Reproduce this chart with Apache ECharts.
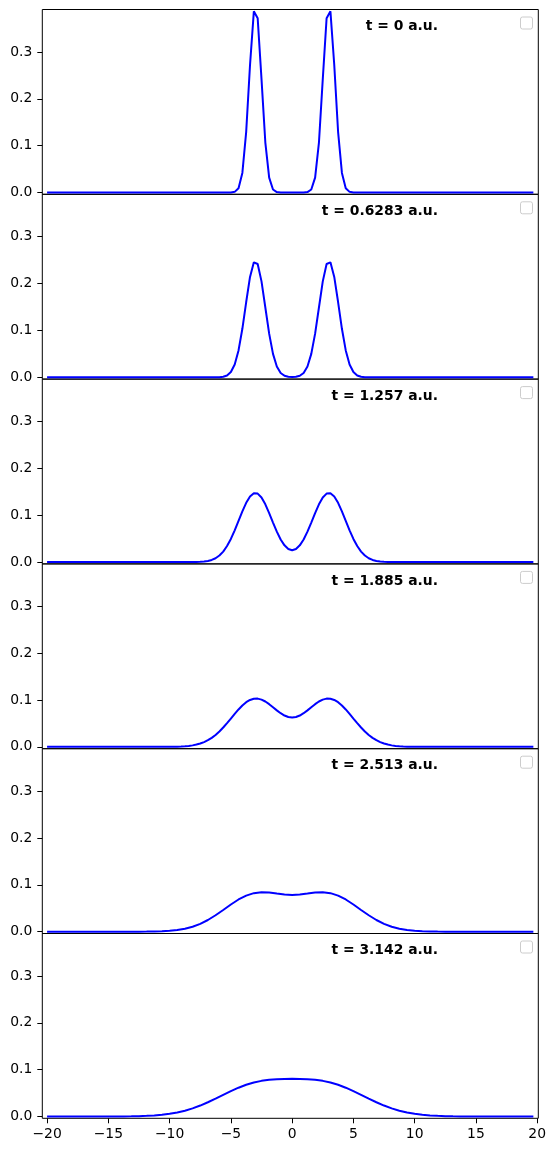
<!DOCTYPE html>
<html>
<head>
<meta charset="utf-8">
<script src="https://cdn.jsdelivr.net/npm/echarts@6/dist/echarts.min.js"></script>
<style>
  html, body { margin: 0; padding: 0; background: #fff; }
  #char { width: 555px; height: 1152px; }
</style>
</head>
<body>
<div id="char"></div>
<script>
// 每个子图的标题
const titles = ['t = 0 a.u.', 't = 0.6283 a.u.', 't = 1.257 a.u.', 't = 1.885 a.u.', 't = 2.513 a.u.', 't = 3.142 a.u.']
const xTicks = [-20, -15, -10, -5, 0, 5, 10, 15, 20]
const yTicks = [0, 0.1, 0.2, 0.3]

// t = 0
const x1 = [-20, -5.3125, -5, -4.6875, -4.375, -4.0625, -3.75, -3.4375, -3.125, -2.8125, -2.5, -2.1875, -1.875, -1.5625, -1.25, -0.9375,
  0.9375, 1.25, 1.5625, 1.875, 2.1875, 2.5, 2.8125, 3.125, 3.4375, 3.75, 4.0625, 4.375, 4.6875, 5, 5.3125, 19.6875]
const y1 = [0, 0, 0.0001, 0.0013, 0.0091, 0.0417, 0.1295, 0.2720, 0.3866, 0.3718, 0.2420, 0.1066, 0.0318, 0.0064, 0.0009, 0,
  0, 0.0009, 0.0064, 0.0318, 0.1066, 0.2420, 0.3718, 0.3866, 0.2720, 0.1295, 0.0417, 0.0091, 0.0013, 0.0001, 0, 0]

// t = 0.6283
const x2 = [-20, -6.875, -6.5625, -6.25, -5.9375, -5.625, -5.3125, -5, -4.6875, -4.375, -4.0625, -3.75, -3.4375, -3.125, -2.8125, -2.5,
  -2.1875, -1.875, -1.5625, -1.25, -0.9375, -0.625, -0.3125, 0, 0.3125, 0.625, 0.9375, 1.25, 1.5625, 1.875, 2.1875, 2.5, 2.8125,
  3.125, 3.4375, 3.75, 4.0625, 4.375, 4.6875, 5, 5.3125, 5.625, 5.9375, 6.25, 6.5625, 6.875, 19.6875]
const y2 = [0, 0, 0, 0.0001, 0.0003, 0.0012, 0.0039, 0.0112, 0.0273, 0.0573, 0.1035, 0.1606, 0.2141, 0.2454, 0.2417, 0.2046,
  0.1489, 0.0931, 0.0500, 0.0231, 0.0092, 0.0031, 0.0010, 0.0005, 0.0010, 0.0031, 0.0092, 0.0231, 0.0500, 0.0931, 0.1489, 0.2046, 0.2417,
  0.2454, 0.2141, 0.1606, 0.1035, 0.0573, 0.0273, 0.0112, 0.0039, 0.0012, 0.0003, 0.0001, 0, 0, 0]

// t = 1.257
const x3 = [-20, -8.75, -8.4375, -8.125, -7.8125, -7.5, -7.1875, -6.875, -6.5625, -6.25, -5.9375, -5.625, -5.3125, -5, -4.6875, -4.375,
  -4.0625, -3.75, -3.4375, -3.125, -2.8125, -2.5, -2.1875, -1.875, -1.5625, -1.25, -0.9375, -0.625, -0.3125, 0,
  0.3125, 0.625, 0.9375, 1.25, 1.5625, 1.875, 2.1875, 2.5, 2.8125, 3.125, 3.4375, 3.75, 4.0625, 4.375, 4.6875, 5,
  5.3125, 5.625, 5.9375, 6.25, 6.5625, 6.875, 7.1875, 7.5, 7.8125, 8.125, 8.4375, 8.75, 19.6875]
const y3 = [0, 0, 0.0001, 0.0001, 0.0003, 0.0006, 0.0012, 0.0024, 0.0046, 0.0082, 0.0140, 0.0224, 0.0342, 0.0494, 0.0677, 0.0880,
  0.1083, 0.1265, 0.1399, 0.1468, 0.1461, 0.1378, 0.1232, 0.1046, 0.0843, 0.0649, 0.0483, 0.0357, 0.0279, 0.0252,
  0.0279, 0.0357, 0.0483, 0.0649, 0.0843, 0.1046, 0.1232, 0.1378, 0.1461, 0.1468, 0.1399, 0.1265, 0.1083, 0.0880, 0.0677, 0.0494,
  0.0342, 0.0224, 0.0140, 0.0082, 0.0046, 0.0024, 0.0012, 0.0006, 0.0003, 0.0001, 0.0001, 0, 0]

// t = 1.885
const x4 = [-20, -11.25, -10.9375, -10.625, -10.3125, -10, -9.6875, -9.375, -9.0625, -8.75, -8.4375, -8.125, -7.8125, -7.5, -7.1875,
  -6.875, -6.5625, -6.25, -5.9375, -5.625, -5.3125, -5, -4.6875, -4.375, -4.0625, -3.75, -3.4375, -3.125, -2.8125, -2.5,
  -2.1875, -1.875, -1.5625, -1.25, -0.9375, -0.625, -0.3125, 0,
  0.3125, 0.625, 0.9375, 1.25, 1.5625, 1.875, 2.1875, 2.5, 2.8125, 3.125, 3.4375, 3.75, 4.0625, 4.375, 4.6875, 5,
  5.3125, 5.625, 5.9375, 6.25, 6.5625, 6.875, 7.1875, 7.5, 7.8125, 8.125, 8.4375, 8.75, 9.0625, 9.375, 9.6875, 10,
  10.3125, 10.625, 10.9375, 11.25, 19.6875]
const y4 = [0, 0, 0, 0.0001, 0.0001, 0.0002, 0.0003, 0.0005, 0.0008, 0.0013, 0.0021, 0.0032, 0.0049, 0.0071, 0.0102,
  0.0142, 0.0193, 0.0255, 0.0329, 0.0413, 0.0507, 0.0605, 0.0704, 0.0799, 0.0883, 0.0953, 0.1002, 0.1028, 0.1030, 0.1009,
  0.0968, 0.0911, 0.0846, 0.0779, 0.0718, 0.0669, 0.0637, 0.0627,
  0.0637, 0.0669, 0.0718, 0.0779, 0.0846, 0.0911, 0.0968, 0.1009, 0.1030, 0.1028, 0.1002, 0.0953, 0.0883, 0.0799, 0.0704, 0.0605,
  0.0507, 0.0413, 0.0329, 0.0255, 0.0193, 0.0142, 0.0102, 0.0071, 0.0049, 0.0032, 0.0021, 0.0013, 0.0008, 0.0005, 0.0003, 0.0002,
  0.0001, 0.0001, 0, 0, 0]

// t = 2.513
const x5 = [-20, -13.75, -13.125, -12.5, -11.875, -11.25, -10.625, -10, -9.375, -8.75, -8.125, -7.5, -6.875, -6.25, -5.625, -5,
  -4.375, -3.75, -3.125, -2.5, -1.875, -1.25, -0.625, 0, 0.625, 1.25, 1.875, 2.5, 3.125, 3.75, 4.375, 5, 5.625, 6.25, 6.875,
  7.5, 8.125, 8.75, 9.375, 10, 10.625, 11.25, 11.875, 12.5, 13.125, 13.75, 19.6875]
const y5 = [0, 0, 0, 0.0001, 0.0002, 0.0004, 0.0009, 0.0019, 0.0035, 0.0063, 0.0105, 0.0167, 0.0249, 0.0350, 0.0463, 0.0580,
  0.0687, 0.0770, 0.0822, 0.0842, 0.0834, 0.0813, 0.0793, 0.0785, 0.0793, 0.0813, 0.0834, 0.0842, 0.0822, 0.0770, 0.0687, 0.0580, 0.0463, 0.0350, 0.0249,
  0.0167, 0.0105, 0.0063, 0.0035, 0.0019, 0.0009, 0.0004, 0.0002, 0.0001, 0, 0, 0]

// t = 3.142
const x6 = [-20, -16.25, -15.625, -15, -14.375, -13.75, -13.125, -12.5, -11.875, -11.25, -10.625, -10, -9.375, -8.75, -8.125, -7.5,
  -6.875, -6.25, -5.625, -5, -4.375, -3.75, -3.125, -2.5, -1.875, -1.25, -0.625, 0, 0.625, 1.25, 1.875, 2.5, 3.125, 3.75,
  4.375, 5, 5.625, 6.25, 6.875, 7.5, 8.125, 8.75, 9.375, 10, 10.625, 11.25, 11.875, 12.5, 13.125, 13.75, 14.375, 15, 15.625, 16.25, 19.6875]
const y6 = [0, 0, 0, 0.0001, 0.0001, 0.0002, 0.0004, 0.0007, 0.0013, 0.0022, 0.0036, 0.0056, 0.0085, 0.0123, 0.0173, 0.0233,
  0.0304, 0.0381, 0.0462, 0.0541, 0.0614, 0.0676, 0.0725, 0.0760, 0.0783, 0.0796, 0.0802, 0.0804, 0.0802, 0.0796, 0.0783, 0.0760, 0.0725, 0.0676,
  0.0614, 0.0541, 0.0462, 0.0381, 0.0304, 0.0233, 0.0173, 0.0123, 0.0085, 0.0056, 0.0036, 0.0022, 0.0013, 0.0007, 0.0004, 0.0002, 0.0001, 0.0001, 0, 0, 0]

const xs = [x1, x2, x3, x4, x5, x6]
const ys = [y1, y2, y3, y4, y5, y6]

const TOP = 9.5
const H = 184.8
const font = 'DejaVu Sans'
const last = titles.length - 1

let myChart = echarts.init(document.getElementById('char'))
let option = {
  animation: false,
  backgroundColor: '#fff',
  title: titles.map((t, i) => ({
    text: t,
    right: 117,
    top: TOP + i * H + 10,
    padding: 0,
    textStyle: { fontFamily: font, fontSize: 13.9, fontWeight: 'bold', color: '#000' }
  })),
  grid: titles.map((t, i) => ({
    left: 42.3,
    right: 16.7,
    top: TOP + i * H,
    height: H,
    show: true,
    borderColor: '#000',
    borderWidth: 1,
    backgroundColor: 'transparent'
  })),
  xAxis: titles.map((t, i) => ({
    type: 'value',
    gridIndex: i,
    min: -20.39,
    max: 20.09,
    axisLine: { show: false, onZero: false },
    splitLine: { show: false },
    axisTick: {
      show: i === last,
      customValues: xTicks,
      length: 5,
      lineStyle: { color: '#000', width: 1 }
    },
    axisLabel: {
      show: i === last,
      customValues: xTicks,
      margin: 9,
      fontFamily: font,
      fontSize: 13.9,
      color: '#000',
      formatter: v => String(v).replace('-', '\u2212')
    }
  })),
  yAxis: titles.map((t, i) => ({
    type: 'value',
    gridIndex: i,
    min: -0.0039,
    max: 0.3905,
    axisLine: { show: false, onZero: false },
    splitLine: { show: false },
    axisTick: {
      show: true,
      customValues: yTicks,
      length: 5,
      lineStyle: { color: '#000', width: 1 }
    },
    axisLabel: {
      customValues: yTicks,
      margin: 10,
      fontFamily: font,
      fontSize: 13.9,
      color: '#000',
      formatter: v => v.toFixed(1)
    }
  })),
  // 空的图例框
  graphic: titles.map((t, i) => ({
    type: 'rect',
    left: 520,
    top: TOP + i * H + 7,
    shape: { width: 12, height: 12, r: 2 },
    style: { fill: '#fff', stroke: '#cccccc', lineWidth: 1 }
  })),
  series: titles.map((t, i) => ({
    type: 'line',
    xAxisIndex: i,
    yAxisIndex: i,
    showSymbol: false,
    symbol: 'none',
    data: xs[i].map((x, k) => [x, ys[i][k]]),
    lineStyle: { color: '#0000ff', width: 2 }
  }))
}

myChart.setOption(option)
</script>
</body>
</html>
